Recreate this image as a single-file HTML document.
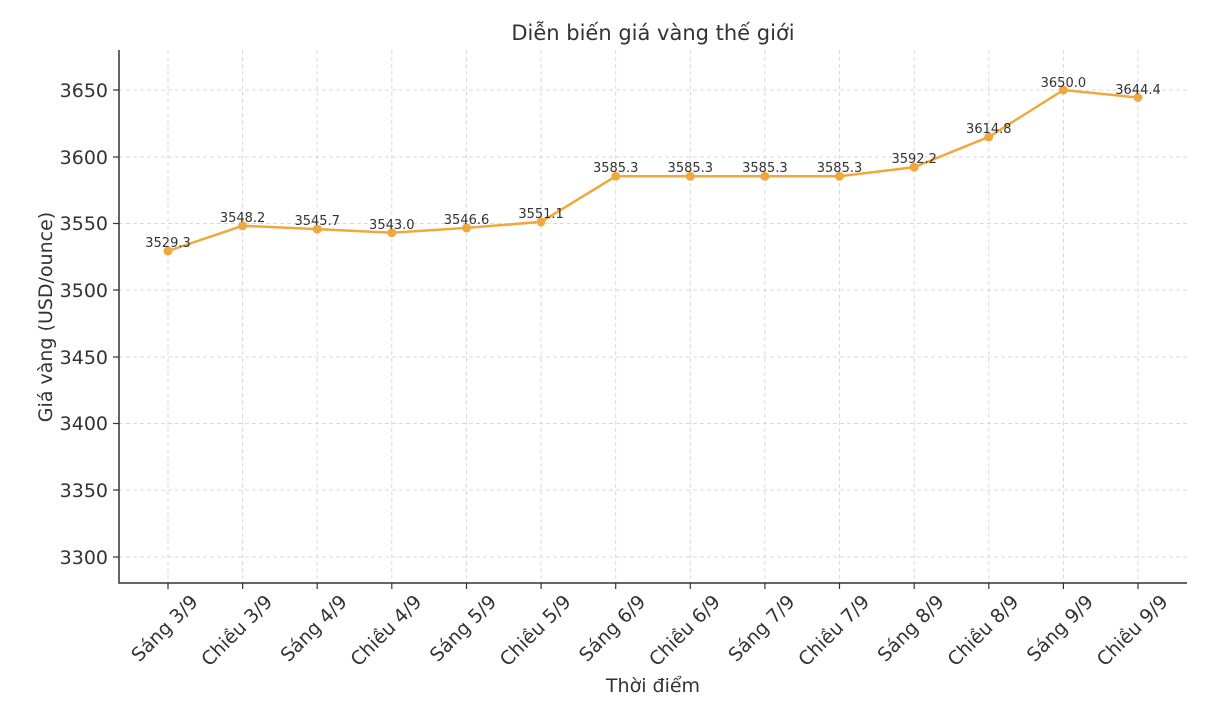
<!DOCTYPE html>
<html><head><meta charset="utf-8"><style>
html,body{margin:0;padding:0;background:#fff;}
svg{display:block;font-family:"DejaVu Sans","Liberation Sans",sans-serif;}
</style></head><body>
<svg width="1212" height="708" viewBox="0 0 1212 708" xmlns="http://www.w3.org/2000/svg">
<rect x="0" y="0" width="1212" height="708" fill="#fff"/>
<text x="653" y="40" text-anchor="middle" font-size="21" fill="#333">Diễn biến giá vàng thế giới</text>
<g stroke="#d9d9d9" stroke-width="1" stroke-dasharray="4,3">
<line x1="119" x2="1187" y1="90" y2="90"/><line x1="119" x2="1187" y1="157" y2="157"/>
<line x1="119" x2="1187" y1="223.5" y2="223.5"/><line x1="119" x2="1187" y1="290" y2="290"/>
<line x1="119" x2="1187" y1="357" y2="357"/><line x1="119" x2="1187" y1="423.5" y2="423.5"/>
<line x1="119" x2="1187" y1="490" y2="490"/><line x1="119" x2="1187" y1="557" y2="557"/>
<line x1="168" x2="168" y1="50" y2="583"/><line x1="242.6" x2="242.6" y1="50" y2="583"/>
<line x1="317.2" x2="317.2" y1="50" y2="583"/><line x1="391.8" x2="391.8" y1="50" y2="583"/>
<line x1="466.5" x2="466.5" y1="50" y2="583"/><line x1="541.1" x2="541.1" y1="50" y2="583"/>
<line x1="615.7" x2="615.7" y1="50" y2="583"/><line x1="690.3" x2="690.3" y1="50" y2="583"/>
<line x1="764.9" x2="764.9" y1="50" y2="583"/><line x1="839.5" x2="839.5" y1="50" y2="583"/>
<line x1="914.2" x2="914.2" y1="50" y2="583"/><line x1="988.8" x2="988.8" y1="50" y2="583"/>
<line x1="1063.4" x2="1063.4" y1="50" y2="583"/><line x1="1138" x2="1138" y1="50" y2="583"/>
</g>
<g stroke="#333" stroke-width="1.5" fill="none">
<polyline points="119,50 119,583 1187,583"/>
</g>
<g stroke="#333" stroke-width="1.2">
<line x1="113" x2="119" y1="90" y2="90"/><line x1="113" x2="119" y1="157" y2="157"/>
<line x1="113" x2="119" y1="223.5" y2="223.5"/><line x1="113" x2="119" y1="290" y2="290"/>
<line x1="113" x2="119" y1="357" y2="357"/><line x1="113" x2="119" y1="423.5" y2="423.5"/>
<line x1="113" x2="119" y1="490" y2="490"/><line x1="113" x2="119" y1="557" y2="557"/>
</g>
<g font-size="19" fill="#333" text-anchor="end">
<text x="108" y="97">3650</text><text x="108" y="164">3600</text><text x="108" y="230">3550</text>
<text x="108" y="297">3500</text><text x="108" y="364">3450</text><text x="108" y="430">3400</text>
<text x="108" y="497">3350</text><text x="108" y="564">3300</text>
</g>
<text transform="translate(52,317) rotate(-90)" text-anchor="middle" font-size="19" fill="#333">Giá vàng (USD/ounce)</text>
<text x="653" y="692" text-anchor="middle" font-size="19" fill="#333">Thời điểm</text>
<g font-size="19" fill="#333" text-anchor="end">
<text transform="translate(199,603) rotate(-45)">Sáng 3/9</text>
<text transform="translate(273.6,603) rotate(-45)">Chiều 3/9</text>
<text transform="translate(348.2,603) rotate(-45)">Sáng 4/9</text>
<text transform="translate(422.8,603) rotate(-45)">Chiều 4/9</text>
<text transform="translate(497.5,603) rotate(-45)">Sáng 5/9</text>
<text transform="translate(572.1,603) rotate(-45)">Chiều 5/9</text>
<text transform="translate(646.7,603) rotate(-45)">Sáng 6/9</text>
<text transform="translate(721.3,603) rotate(-45)">Chiều 6/9</text>
<text transform="translate(795.9,603) rotate(-45)">Sáng 7/9</text>
<text transform="translate(870.5,603) rotate(-45)">Chiều 7/9</text>
<text transform="translate(945.2,603) rotate(-45)">Sáng 8/9</text>
<text transform="translate(1019.8,603) rotate(-45)">Chiều 8/9</text>
<text transform="translate(1094.4,603) rotate(-45)">Sáng 9/9</text>
<text transform="translate(1169,603) rotate(-45)">Chiều 9/9</text>
</g>
<g stroke="#333" stroke-width="1.2">
<line x1="168" x2="168" y1="583" y2="589"/><line x1="242.6" x2="242.6" y1="583" y2="589"/>
<line x1="317.2" x2="317.2" y1="583" y2="589"/><line x1="391.8" x2="391.8" y1="583" y2="589"/>
<line x1="466.5" x2="466.5" y1="583" y2="589"/><line x1="541.1" x2="541.1" y1="583" y2="589"/>
<line x1="615.7" x2="615.7" y1="583" y2="589"/><line x1="690.3" x2="690.3" y1="583" y2="589"/>
<line x1="764.9" x2="764.9" y1="583" y2="589"/><line x1="839.5" x2="839.5" y1="583" y2="589"/>
<line x1="914.2" x2="914.2" y1="583" y2="589"/><line x1="988.8" x2="988.8" y1="583" y2="589"/>
<line x1="1063.4" x2="1063.4" y1="583" y2="589"/><line x1="1138" x2="1138" y1="583" y2="589"/>
</g>
<polyline fill="none" stroke="#f0a83c" stroke-width="2.5" points="168,251 242.6,225.8 317.2,229.1 391.8,232.7 466.5,227.9 541.1,221.9 615.7,176.3 690.3,176.3 764.9,176.3 839.5,176.3 914.2,167.1 988.8,136.9 1063.4,90 1138,97.5"/>
<g fill="#f0a83c">
<circle cx="168" cy="251" r="4.5"/><circle cx="242.6" cy="225.8" r="4.5"/><circle cx="317.2" cy="229.1" r="4.5"/>
<circle cx="391.8" cy="232.7" r="4.5"/><circle cx="466.5" cy="227.9" r="4.5"/><circle cx="541.1" cy="221.9" r="4.5"/>
<circle cx="615.7" cy="176.3" r="4.5"/><circle cx="690.3" cy="176.3" r="4.5"/><circle cx="764.9" cy="176.3" r="4.5"/>
<circle cx="839.5" cy="176.3" r="4.5"/><circle cx="914.2" cy="167.1" r="4.5"/><circle cx="988.8" cy="136.9" r="4.5"/>
<circle cx="1063.4" cy="90" r="4.5"/><circle cx="1138" cy="97.5" r="4.5"/>
</g>
<g font-size="13" fill="#333" text-anchor="middle">
<text x="168" y="247">3529.3</text><text x="242.6" y="222">3548.2</text><text x="317.2" y="225">3545.7</text>
<text x="391.8" y="229">3543.0</text><text x="466.5" y="224">3546.6</text><text x="541.1" y="218">3551.1</text>
<text x="615.7" y="172">3585.3</text><text x="690.3" y="172">3585.3</text><text x="764.9" y="172">3585.3</text>
<text x="839.5" y="172">3585.3</text><text x="914.2" y="163">3592.2</text><text x="988.8" y="133">3614.8</text>
<text x="1063.4" y="87">3650.0</text><text x="1138" y="94">3644.4</text>
</g>
</svg>
</body></html>
